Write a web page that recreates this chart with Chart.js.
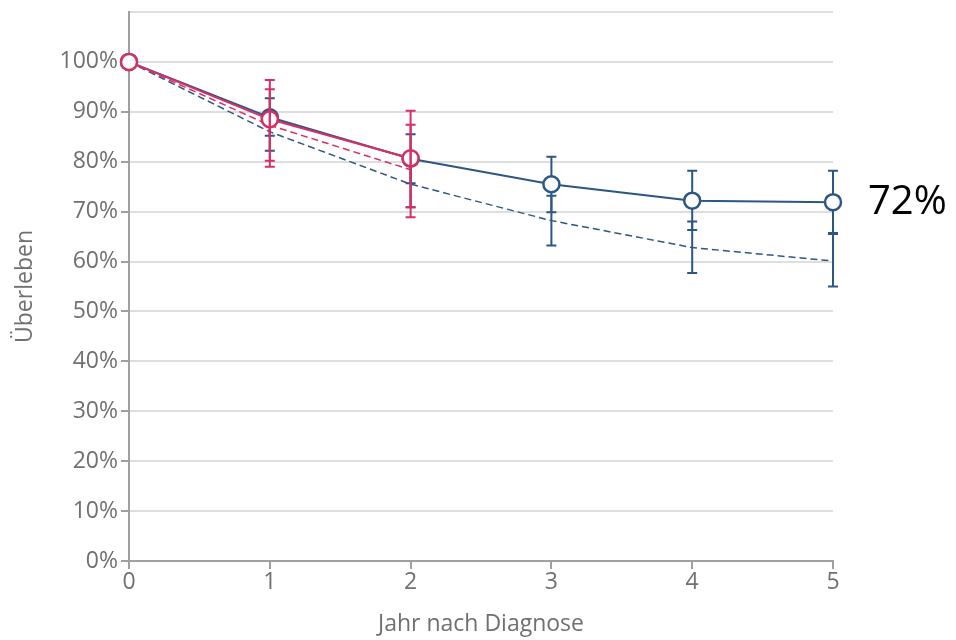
<!DOCTYPE html>
<html>
<head>
<meta charset="utf-8">
<script src="https://cdn.jsdelivr.net/npm/chart.js@4.4.1/dist/chart.umd.min.js"></script>
<style>
  html, body { margin: 0; padding: 0; background: white; }
  #wrap { width: 956px; height: 640px; }
</style>
</head>
<body>
<div id="wrap"><canvas id="chart" width="956" height="640"></canvas></div>
<script>
// Jahre nach Diagnose
const years = [0, 1, 2, 3, 4, 5];
const yTicks = [0, 10, 20, 30, 40, 50, 60, 70, 80, 90, 100, 110];

// blau: beobachtet (durchgezogen) / erwartet (gestrichelt)
const blueObs   = [100, 88.9, 80.6, 75.5, 72.2, 71.9];
const blueObsLo = [100, 85.2, 75.7, 69.9, 66.3, 65.7];
const blueObsHi = [100, 92.7, 85.5, 81.0, 78.2, 78.2];
const blueExp   = [100, 86.0, 75.5, 68.2, 62.8, 60.1];
const blueExpLo = [100, 82.2, 70.9, 63.2, 57.7, 55.0];
const blueExpHi = [100, 89.8, 80.1, 73.2, 68.0, 65.5];

// rot: nur bis Jahr 2
const redObs   = [100, 88.5, 80.7];
const redObsLo = [100, 80.2, 70.9];
const redObsHi = [100, 96.4, 90.2];
const redExp   = [100, 87.3, 78.4];
const redExpLo = [100, 79.0, 68.9];
const redExpHi = [100, 94.5, 87.4];

const endLabel = '72%';

const BLUE = '#2d5684';
const RED = '#d62f64';
const GRID = '#dedede';
const AXIS = '#a0a0a0';
const TEXT = '#707070';
const FONT = "'Open Sans', 'Noto Sans', sans-serif";

const pts = (ys) => ys.map((y, i) => ({x: years[i], y: y}));

// Fehlerbalken unter bzw. über den Punkten zeichnen
const errorbars = {
  id: 'errorbars',
  drawBars(chart, top) {
    const ctx = chart.ctx;
    const sx = chart.scales.x, sy = chart.scales.y;
    ctx.save();
    chart.data.datasets.forEach(ds => {
      if (!ds.lo || !!ds.barsOnTop !== top) return;
      ctx.strokeStyle = ds.borderColor;
      ctx.lineWidth = 2;
      ds.lo.forEach((lo, i) => {
        if (i === 0) return;
        const x = sx.getPixelForValue(years[i]);
        const y1 = sy.getPixelForValue(lo);
        const y2 = sy.getPixelForValue(ds.hi[i]);
        ctx.beginPath();
        ctx.moveTo(x, y1); ctx.lineTo(x, y2);
        ctx.moveTo(x - 5, y1); ctx.lineTo(x + 5, y1);
        ctx.moveTo(x - 5, y2); ctx.lineTo(x + 5, y2);
        ctx.stroke();
      });
    });
    ctx.restore();
  },
  beforeDatasetsDraw(chart) { this.drawBars(chart, false); },
  afterDatasetsDraw(chart) {
    this.drawBars(chart, true);
    // Endwert rechts neben dem letzten Punkt
    const ctx = chart.ctx;
    const sy = chart.scales.y;
    ctx.save();
    ctx.fillStyle = '#000';
    ctx.font = `40px ${FONT}`;
    ctx.textAlign = 'left';
    ctx.textBaseline = 'middle';
    ctx.fillText(endLabel, chart.chartArea.right + 35, sy.getPixelForValue(blueObs[blueObs.length - 1]));
    ctx.restore();
  },
};

new Chart(document.getElementById('chart').getContext('2d'), {
  type: 'scatter',
  data: {
    datasets: [
      {
        label: 'rot beobachtet',
        data: pts(redObs), lo: redObsLo, hi: redObsHi, barsOnTop: true,
        showLine: true, borderColor: RED, borderWidth: 2,
        pointRadius: 8, pointBorderWidth: 2.5, pointBackgroundColor: 'white', pointBorderColor: RED,
      },
      {
        label: 'rot erwartet',
        data: pts(redExp), lo: redExpLo, hi: redExpHi, barsOnTop: true,
        showLine: true, borderColor: RED, borderWidth: 1.5, borderDash: [7, 4],
        pointRadius: 0,
      },
      {
        label: 'blau beobachtet',
        data: pts(blueObs), lo: blueObsLo, hi: blueObsHi,
        showLine: true, borderColor: BLUE, borderWidth: 2,
        pointRadius: 8, pointBorderWidth: 2.5, pointBackgroundColor: 'white', pointBorderColor: BLUE,
      },
      {
        label: 'blau erwartet',
        data: pts(blueExp), lo: blueExpLo, hi: blueExpHi,
        showLine: true, borderColor: BLUE, borderWidth: 1.5, borderDash: [7, 4],
        pointRadius: 0,
      },
    ],
  },
  options: {
    responsive: false,
    animation: false,
    clip: false,
    layout: { padding: { top: 12, right: 123, bottom: 0, left: 0 } },
    plugins: { legend: { display: false }, tooltip: { enabled: false } },
    scales: {
      x: {
        type: 'linear', min: 0, max: 5,
        afterFit(scale) { scale.height = 79; },
        afterBuildTicks(scale) { scale.ticks = years.map(v => ({value: v})); },
        grid: { drawOnChartArea: false, color: AXIS, tickLength: 8, lineWidth: 2 },
        border: { color: AXIS, width: 2 },
        ticks: { color: TEXT, font: { family: FONT, size: 23 }, padding: 0, maxRotation: 0 },
        title: { display: true, text: 'Jahr nach Diagnose', color: TEXT,
                 font: { family: FONT, size: 23 }, padding: { top: 0, bottom: 2 } },
      },
      y: {
        min: 0, max: 110,
        afterFit(scale) { scale.width = 129; scale.paddingTop = 0; },
        afterBuildTicks(scale) { scale.ticks = yTicks.map(v => ({value: v})); },
        grid: {
          color: GRID, lineWidth: 2, tickLength: 8,
          tickColor: (c) => c.tick && c.tick.value === 110 ? 'rgba(0,0,0,0)' : AXIS,
        },
        border: { color: AXIS, width: 2 },
        ticks: {
          color: TEXT, font: { family: FONT, size: 23 }, padding: 3,
          callback: (v) => v === 110 ? '' : v + '%',
        },
        title: { display: true, text: 'Überleben', color: TEXT,
                 font: { family: FONT, size: 23 }, padding: { top: 12, bottom: 0 } },
      },
    },
  },
  plugins: [errorbars],
});
</script>
</body>
</html>
